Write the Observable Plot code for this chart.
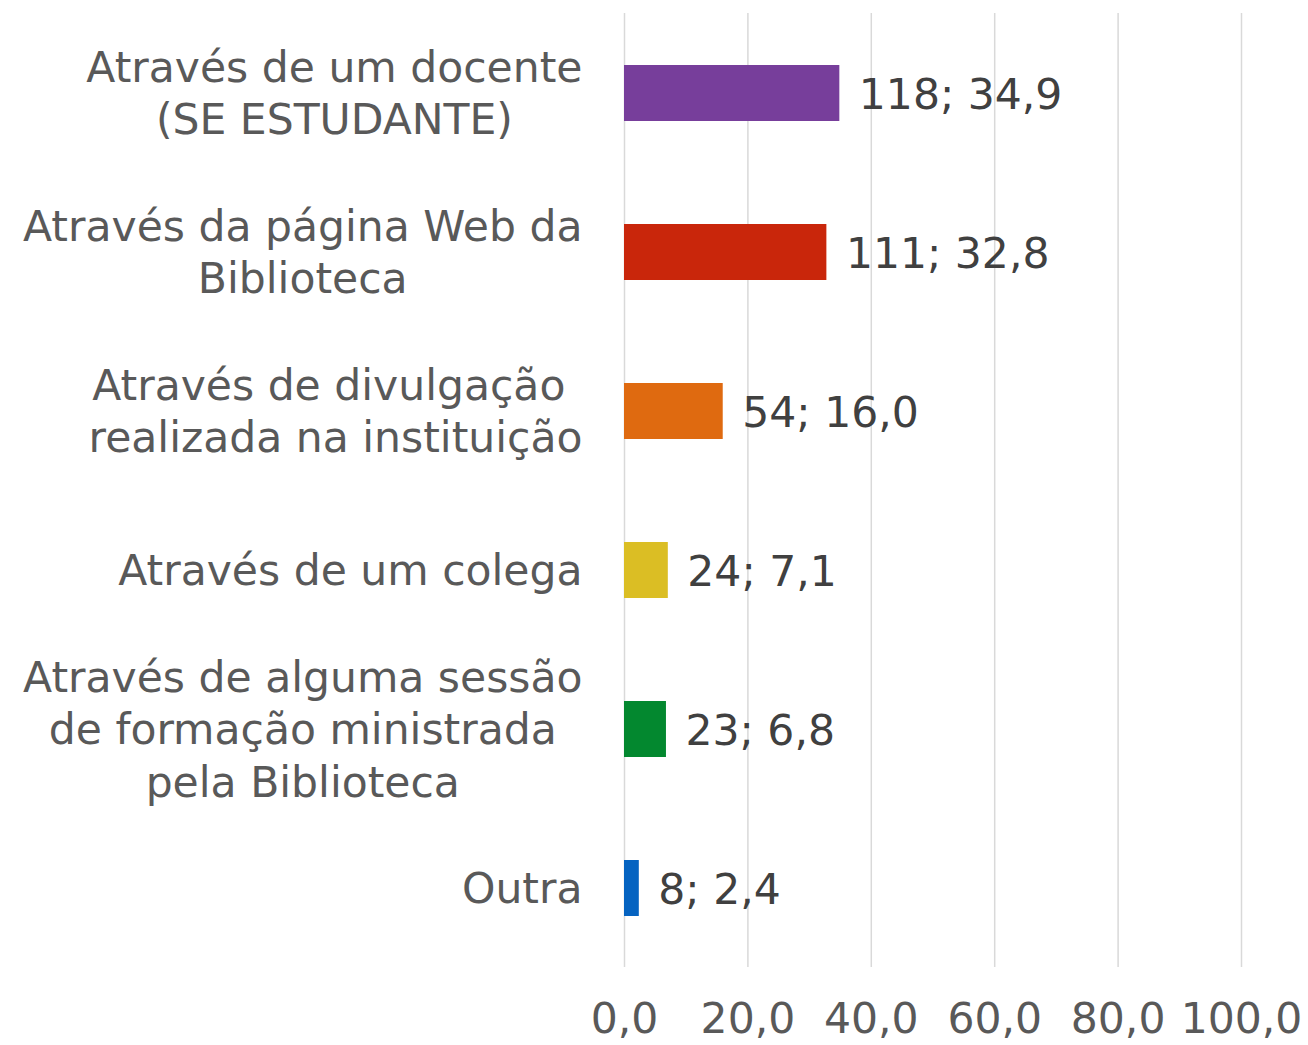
<!DOCTYPE html>
<html>
<head>
<meta charset="utf-8">
<script src="https://cdn.jsdelivr.net/npm/d3@7"></script>
<script src="https://cdn.jsdelivr.net/npm/@observablehq/plot@0.6"></script>
<style>
  html, body { margin: 0; padding: 0; background: #fff; }
  #chart svg { display: block; }
</style>
</head>
<body>
<div id="chart"></div>
<script>
const categories = [
  "Através de um docente\n(SE ESTUDANTE)",
  "Através da página Web da\nBiblioteca",
  "Através de divulgação \nrealizada na instituição",
  "Através de um colega",
  "Através de alguma sessão\nde formação ministrada\npela Biblioteca",
  "Outra"
];
const counts = [118, 111, 54, 24, 23, 8];
const percents = [34.9, 32.8, 16.0, 7.1, 6.8, 2.4];
const colors = ["#773E9B", "#C9260B", "#DF6A10", "#DBBE24", "#03882F", "#0563C1"];
const xTicks = [0, 20, 40, 60, 80, 100];

const fmt = v => v.toFixed(1).replace(".", ",");
const data = categories.map((c, i) => ({
  category: c, count: counts[i], pct: percents[i], color: colors[i],
  label: `${counts[i]}; ${fmt(percents[i])}`
}));

const FONT = "'DejaVu Sans', Verdana, sans-serif";

const chart = Plot.plot({
  width: 1308,
  height: 1045,
  marginLeft: 624,
  marginRight: 67,
  marginTop: 13,
  marginBottom: 78,
  style: { fontFamily: FONT, background: "#fff" },
  x: { domain: [0, 100], ticks: xTicks, label: null },
  y: { domain: categories, paddingInner: 0.65, paddingOuter: 0.325, align: 0.5, label: null },
  marks: [
    Plot.gridX(xTicks, { stroke: "#d9d9d9", strokeOpacity: 1, strokeWidth: 1.5 }),
    Plot.barX(data, { x: "pct", y: "category", fill: "color" }),
    Plot.text(data, {
      x: "pct", y: "category", text: "label",
      textAnchor: "start", dx: 19, dy: 2, fontSize: 42.5, fill: "#404040"
    }),
    Plot.axisX({
      ticks: xTicks, tickSize: 0, tickPadding: 35, label: null,
      tickFormat: fmt, fontSize: 42.5, color: "#595959"
    }),
    Plot.axisY({
      tickSize: 0, tickPadding: 42, fontSize: 42.5, lineHeight: 1.23, label: null,
      dy: -2, color: "#595959", textAnchor: "end"
    })
  ]
});

document.getElementById("chart").appendChild(chart);

// Center each line within the right-aligned label block (as in the reference)
chart.querySelectorAll("g[aria-label='y-axis tick label'] text").forEach(t => {
  const w = t.getBBox().width;
  t.setAttribute("text-anchor", "middle");
  const tr = t.getAttribute("transform") || "";
  t.setAttribute("transform", tr + ` translate(${-w / 2},0)`);
});
</script>
</body>
</html>
